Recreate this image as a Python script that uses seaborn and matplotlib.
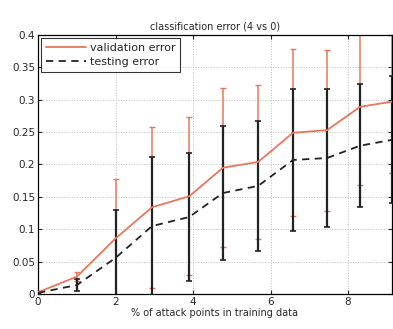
import numpy as np
import pandas as pd
import matplotlib
matplotlib.use('Agg')
import matplotlib.pyplot as plt
import seaborn as sns

# % of attack points at each evaluation step
attack_pct = [0, 1.0, 2.0, 2.94, 3.9, 4.77, 5.68, 6.58, 7.46, 8.31, 9.13]

# validation error: mean and std
val_err = [0.003, 0.027, 0.086, 0.134, 0.151, 0.195, 0.204, 0.249, 0.253, 0.289, 0.297]
val_std = [0.002, 0.007, 0.092, 0.124, 0.122, 0.123, 0.119, 0.129, 0.124, 0.120, 0.110]

# testing error: mean and std
test_err = [0.002, 0.014, 0.056, 0.105, 0.119, 0.156, 0.167, 0.207, 0.210, 0.229, 0.238]
test_std = [0.002, 0.009, 0.074, 0.106, 0.099, 0.103, 0.100, 0.110, 0.107, 0.095, 0.098]

red = '#e8765a'

sns.set_style('ticks')
plt.rcParams['font.family'] = ['DejaVu Sans']

df = pd.DataFrame({
    'x': attack_pct * 2,
    'err': val_err + test_err,
    'series': ['validation error'] * len(attack_pct) + ['testing error'] * len(attack_pct),
})

fig = plt.figure(figsize=(3.93, 3.29), dpi=100)
ax = fig.add_axes([0.097, 0.106, 0.9, 0.788])

# error bars first, lines on top
ax.errorbar(attack_pct, val_err, yerr=val_std, fmt='none', ecolor=red,
            elinewidth=1.1, capsize=2.5, capthick=1.0, zorder=2)
ax.errorbar(attack_pct, test_err, yerr=test_std, fmt='none', ecolor='#222222',
            elinewidth=1.6, capsize=2.5, capthick=1.2, zorder=3)

sns.lineplot(data=df, x='x', y='err', hue='series', style='series',
             palette={'validation error': red, 'testing error': '#222222'},
             dashes={'validation error': '', 'testing error': (4, 3)},
             linewidth=1.3, ax=ax, zorder=4)

ax.set_xlim(0, 9.13)
ax.set_ylim(0, 0.4)
ax.set_xticks([0, 2, 4, 6, 8])
ax.set_yticks(np.arange(0, 0.401, 0.05))
ax.set_yticklabels(['0', '0.05', '0.1', '0.15', '0.2', '0.25', '0.3', '0.35', '0.4'])
ax.grid(True, linestyle=':', color='#bbbbbb', linewidth=0.7)
ax.tick_params(direction='in', top=True, right=True, labelsize=7.5, length=3, pad=2)
for s in ax.spines.values():
    s.set_visible(True)
    s.set_color('black')
    s.set_linewidth(0.9)

ax.set_title('classification error (4 vs 0)', fontsize=7, pad=4)
ax.set_xlabel('% of attack points in training data', fontsize=7, labelpad=1)
ax.set_ylabel('')

leg = ax.legend(loc='upper left', fontsize=8, frameon=True, fancybox=False,
                borderaxespad=0.3, handlelength=3.6, handletextpad=0.3,
                borderpad=0.45, labelspacing=0.35)
leg.get_frame().set_edgecolor('black')
leg.get_frame().set_linewidth(0.8)
leg.set_title(None)

fig.savefig('out.png', dpi=100)
